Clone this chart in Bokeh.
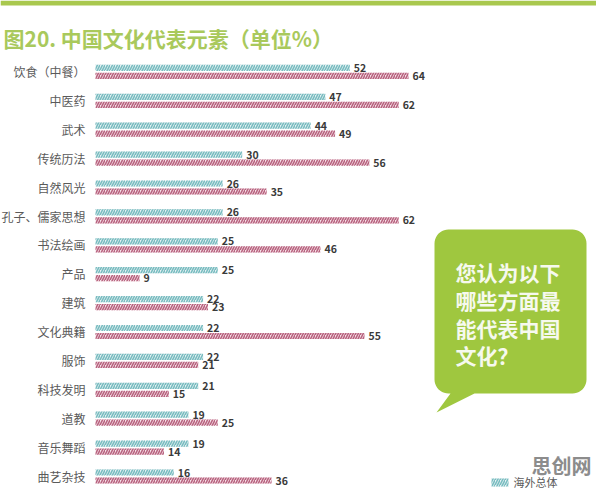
from bokeh.plotting import figure
from bokeh.models import Range1d, ColumnDataSource
from bokeh.core.properties import value
from bokeh.embed import file_html
from bokeh.resources import INLINE
import math

categories = ["饮食（中餐）", "中医药", "武术", "传统历法", "自然风光", "孔子、儒家思想",
              "书法绘画", "产品", "建筑", "文化典籍", "服饰", "科技发明", "道教",
              "音乐舞蹈", "曲艺杂技"]
overseas = [52, 47, 44, 30, 26, 26, 25, 25, 22, 22, 22, 21, 19, 19, 16]
domestic = [64, 62, 49, 56, 35, 62, 46, 9, 23, 55, 21, 15, 25, 14, 36]
series_names = ["海外总体", "国内总体"]
title_text = "图20. 中国文化代表元素（单位%）"
bubble_lines = ["您认为以下", "哪些方面最", "能代表中国", "文化？"]

W, H = 596, 488
X0, XS = 95.0, 4.89        # pixel of zero, pixels per unit
Y0, YS = 71.0, 28.9        # pixel of first row, pixels per row

def dx(px):
    return (px - X0) / XS

def dy(py):
    return (py - Y0) / YS

p = figure(width=W, height=H, output_backend="svg", toolbar_location=None,
           x_range=Range1d(dx(0), dx(W)), y_range=Range1d(dy(H), dy(0)),
           min_border=0, min_border_left=0, min_border_right=0,
           min_border_top=0, min_border_bottom=0)
p.axis.visible = False
p.grid.visible = False
p.outline_line_color = None
p.background_fill_color = "white"
p.border_fill_color = "white"

FONT = value("Noto Sans CJK SC")

idx = list(range(len(categories)))
off_t, off_p = -3.6 / YS, 4.4 / YS
bh = 6.2 / YS
src = ColumnDataSource(dict(
    yt=[i + off_t for i in idx], yp=[i + off_p for i in idx],
    ov=overseas, dm=domestic,
    ovl=[str(v) for v in overseas], dml=[str(v) for v in domestic],
    cat=categories, yc=[i for i in idx],
))

teal_fill, teal_hatch = "#e4f0f2", "#78bcc0"
pink_fill, pink_hatch = "#f5e0e7", "#b8637f"
HS, HW = 5.0, 1.6

p.hbar(y="yt", left=0, right="ov", height=bh, source=src, fill_color=teal_fill,
       line_color=None, hatch_pattern="right_diagonal_line", hatch_color=teal_hatch,
       hatch_scale=HS, hatch_weight=HW)
p.hbar(y="yp", left=0, right="dm", height=bh, source=src, fill_color=pink_fill,
       line_color=None, hatch_pattern="right_diagonal_line", hatch_color=pink_hatch,
       hatch_scale=HS, hatch_weight=HW)

p.text(x="ov", y="yt", text="ovl", source=src, x_offset=4, text_font=FONT,
       text_font_size="10.5px", text_font_style="bold", text_color="#3a3a3a",
       text_baseline="middle", text_align="left")
p.text(x="dm", y="yp", text="dml", source=src, x_offset=4, text_font=FONT,
       text_font_size="10.5px", text_font_style="bold", text_color="#3a3a3a",
       text_baseline="middle", text_align="left")

p.text(x=dx(85), y="yc", text="cat", source=src, text_font=FONT,
       text_font_size="12px", text_color="#5a5a5a", text_baseline="middle",
       text_align="right")

# top band and title
p.quad(left=dx(0), right=dx(W), top=dy(0), bottom=dy(5), fill_color="#a9c84e",
       line_color=None)
p.text(x=[dx(3)], y=[dy(37)], text=[title_text], text_font=FONT,
       text_font_size="21px", text_font_style="bold", text_color="#a9c95c",
       text_baseline="middle", text_align="left")

# speech bubble
L, R, T, B, r = 434, 586, 229, 393, 14
xs, ys = [], []
for cx, cy, a0 in [(R - r, T + r, -90), (R - r, B - r, 0), (L + r, B - r, 90), (L + r, T + r, 180)]:
    for k in range(0, 11):
        a = math.radians(a0 + 9 * k)
        xs.append(cx + r * math.cos(a))
        ys.append(cy + r * math.sin(a))
bl_start = 22
xs = xs[:bl_start] + [474, 436, 450] + xs[bl_start:]
ys = ys[:bl_start] + [B, 412, B] + ys[bl_start:]
p.patch([dx(v) for v in xs], [dy(v) for v in ys], fill_color="#9fc73f", line_color=None)
p.text(x=[dx(455)] * 4, y=[dy(v) for v in (271, 299, 327, 354)], text=bubble_lines,
       text_font=FONT, text_font_size="21px", text_font_style="bold",
       text_color="#f6f9ee", text_baseline="middle", text_align="left")

# watermark
p.text(x=[dx(531)], y=[dy(465)], text=["思创网"], text_font=FONT,
       text_font_size="20px", text_font_style="bold", text_color="#8c8c8c",
       text_baseline="middle", text_align="left")

# legend
p.hbar(y=[dy(482)], left=[dx(491)], right=[dx(508)], height=8 / YS, fill_color=teal_fill,
       line_color=None, hatch_pattern="right_diagonal_line", hatch_color=teal_hatch,
       hatch_scale=HS, hatch_weight=HW)
p.text(x=[dx(513)], y=[dy(481)], text=[series_names[0]], text_font=FONT,
       text_font_size="11px", text_color="#5a5a5a", text_baseline="middle",
       text_align="left")

open("out.html", "w").write(file_html(p, INLINE))
